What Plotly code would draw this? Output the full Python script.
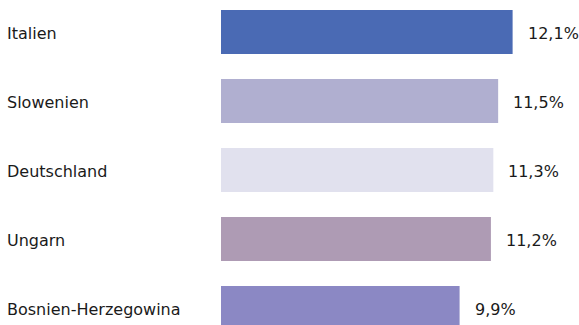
import plotly.graph_objects as go

# Data
countries = ["Italien", "Slowenien", "Deutschland", "Ungarn", "Bosnien-Herzegowina"]
shares = [12.1, 11.5, 11.3, 11.2, 9.9]
value_labels = ["12,1%", "11,5%", "11,3%", "11,2%", "9,9%"]
colors = ["#4a6ab4", "#b0afd0", "#e1e1ee", "#ae9bb4", "#8b88c4"]

W, H = 579, 325
left = 221
px_per_unit = 24.1
pitch = 69.0

fig = go.Figure()
fig.add_trace(go.Bar(
    x=shares,
    y=list(range(len(countries))),
    orientation="h",
    marker=dict(color=colors, line=dict(width=0)),
    width=44 / pitch,
    hoverinfo="skip",
))

font = dict(family="DejaVu Sans", size=16, color="#1a1a1a")

# value labels to the right of each bar
for i, (v, lab) in enumerate(zip(shares, value_labels)):
    fig.add_annotation(x=v, y=i, xref="x", yref="y", text=lab, showarrow=False,
                       xanchor="left", yanchor="middle", xshift=13, yshift=-1,
                       font=font)

# category names, left aligned
for i, c in enumerate(countries):
    fig.add_annotation(x=(5 - left) / (W - left), y=i, xref="paper", yref="y", text=c,
                       showarrow=False, xanchor="left", yanchor="middle", yshift=-1,
                       font=font)

top = -32 / pitch
fig.update_layout(
    width=W, height=H,
    margin=dict(l=left, r=0, t=0, b=0),
    paper_bgcolor="white", plot_bgcolor="white",
    showlegend=False,
    xaxis=dict(range=[0, (W - left) / px_per_unit], visible=False, fixedrange=True),
    yaxis=dict(range=[top + H / pitch, top], visible=False, fixedrange=True),
)

fig.write_html("out.html")
